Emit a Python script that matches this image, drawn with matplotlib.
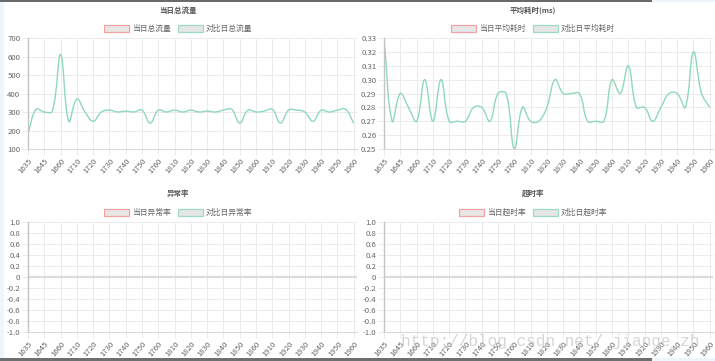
import numpy as np
import matplotlib
matplotlib.use("Agg")
import matplotlib.pyplot as plt
from matplotlib.path import Path
from matplotlib.patches import PathPatch, Patch, Rectangle

plt.rcParams['font.family'] = ['Noto Sans CJK SC', 'DejaVu Sans']

# ---------------- data ----------------
time_labels = ['1635', '1645', '1660', '1710', '1720', '1730', '1740', '1750', '1760',
               '1810', '1820', '1830', '1840', '1850', '1860', '1910', '1920', '1930',
               '1940', '1950', '1960']

compare_total_flow = [185, 315, 300, 305, 610, 250, 370, 300, 250, 300, 310, 300, 305, 300,
                      310, 240, 310, 300, 310, 300, 310, 300, 305, 300, 310, 315, 240, 310,
                      300, 305, 315, 240, 310, 310, 300, 250, 310, 300, 310, 315, 240]

compare_avg_time = [0.33, 0.27, 0.29, 0.28, 0.27, 0.30, 0.27, 0.30, 0.27, 0.27, 0.27, 0.28,
                    0.28, 0.27, 0.29, 0.29, 0.25, 0.28, 0.27, 0.27, 0.28, 0.30, 0.29, 0.29,
                    0.29, 0.27, 0.27, 0.27, 0.30, 0.29, 0.31, 0.28, 0.28, 0.27, 0.28, 0.29,
                    0.29, 0.28, 0.32, 0.29, 0.28]

panel_titles = ['当日总流量', '平均耗时(ms)', '异常率', '超时率']
legend_labels = [('当日总流量', '对比日总流量'),
                 ('当日平均耗时', '对比日平均耗时'),
                 ('当日异常率', '对比日异常率'),
                 ('当日超时率', '对比日超时率')]

flow_ticks = [100, 200, 300, 400, 500, 600, 700]
time_ticks = [0.25, 0.26, 0.27, 0.28, 0.29, 0.30, 0.31, 0.32, 0.33]
rate_ticks = [-1.0, -0.8, -0.6, -0.4, -0.2, 0, 0.2, 0.4, 0.6, 0.8, 1.0]
rate_tick_labels = ['-1.0', '-0.8', '-0.6', '-0.4', '-0.2', '0', '0.2', '0.4', '0.6', '0.8', '1.0']

# ---------------- styling ----------------
W, H = 715, 361
LINE_C = '#8fd9b9'
RED_C = '#f3a3a3'
GREEN_C = '#9edbc1'
GRID_C = '#ebebeb'
TXT_C = '#666666'
FS = 5.6

fig = plt.figure(figsize=(W / 100, H / 100), dpi=100)
fig.patch.set_facecolor('white')


def fx(px):
    return px / W


def fy(py):
    return 1 - py / H


def make_axes(left, top, bottom, width=329):
    return fig.add_axes([fx(left), fy(bottom), width / W, (bottom - top) / H])


def spline(ax, xs, ys, tension=0.4):
    pts = ax.transData.transform(np.column_stack([xs, ys]))
    n = len(pts)
    cp_prev = np.zeros_like(pts)
    cp_next = np.zeros_like(pts)
    for i in range(n):
        cur = pts[i]
        prv = pts[i - 1] if i > 0 else cur
        nxt = pts[i + 1] if i < n - 1 else cur
        d01 = np.hypot(*(cur - prv))
        d12 = np.hypot(*(nxt - cur))
        tot = d01 + d12
        s01 = d01 / tot if tot else 0
        s12 = d12 / tot if tot else 0
        cp_prev[i] = cur - tension * s01 * (nxt - prv)
        cp_next[i] = cur + tension * s12 * (nxt - prv)
    verts = [pts[0]]
    codes = [Path.MOVETO]
    for i in range(n - 1):
        verts += [cp_next[i], cp_prev[i + 1], pts[i + 1]]
        codes += [Path.CURVE4] * 3
    verts = ax.transData.inverted().transform(np.array(verts))
    patch = PathPatch(Path(verts, codes), facecolor='none', edgecolor=LINE_C, lw=1.0,
                      transform=ax.transData, clip_on=True)
    ax.add_patch(patch)


def style_axes(ax, yticks, ylabels, ylim):
    n = len(time_labels)
    ax.set_xlim(0, (n - 1) + 0.2)
    ax.set_ylim(*ylim)
    ax.set_xticks(range(n))
    ax.set_xticklabels(time_labels, rotation=50, ha='right', rotation_mode='anchor',
                       fontsize=FS, color=TXT_C)
    ax.set_yticks(yticks)
    ax.set_yticklabels(ylabels, fontsize=FS, color=TXT_C)
    ax.grid(True, color=GRID_C, lw=0.7)
    ax.set_axisbelow(True)
    ax.tick_params(axis='both', length=4, width=0.7, color=GRID_C, pad=1.5)
    for s in ('top', 'right'):
        ax.spines[s].set_visible(False)
    ax.spines['left'].set_color('#c4c4c4')
    ax.spines['left'].set_linewidth(1.0)
    ax.spines['bottom'].set_color('#dadada')
    ax.spines['bottom'].set_linewidth(0.8)
    ax.set_facecolor('white')


def header(cx, title_y, legend_y, title, labels):
    fig.text(fx(cx), fy(title_y), title, ha='center', va='center', fontsize=5.4,
             color='#555555', fontweight='bold')
    handles = [Patch(facecolor='#e6e6e6', edgecolor=RED_C, lw=0.9),
               Patch(facecolor='#e6e6e6', edgecolor=GREEN_C, lw=0.9)]
    fig.legend(handles, labels, loc='center', bbox_to_anchor=(fx(cx), fy(legend_y)),
               ncol=2, frameon=False, fontsize=FS, labelcolor=TXT_C,
               handlelength=3.2, handleheight=1.0, handletextpad=0.4, columnspacing=0.9,
               borderpad=0)


x_data = np.arange(len(compare_total_flow)) / 2.0

# top-left
ax1 = make_axes(28, 38, 149)
style_axes(ax1, flow_ticks, [str(v) for v in flow_ticks], (100, 700))
spline(ax1, x_data, compare_total_flow)
header(178, 10, 29, panel_titles[0], legend_labels[0])

# top-right
ax2 = make_axes(384, 38, 149)
style_axes(ax2, time_ticks, ['%.2f' % v for v in time_ticks], (0.25, 0.33))
spline(ax2, x_data, compare_avg_time)
header(533, 10, 29, panel_titles[1], legend_labels[1])

# bottom-left
ax3 = make_axes(28, 222, 332)
style_axes(ax3, rate_ticks, rate_tick_labels, (-1.0, 1.0))
ax3.axhline(0, color='#dcdcdc', lw=1.6, zorder=1)
header(178, 193, 213, panel_titles[2], legend_labels[2])

# bottom-right
ax4 = make_axes(384, 222, 332)
style_axes(ax4, rate_ticks, rate_tick_labels, (-1.0, 1.0))
ax4.axhline(0, color='#dcdcdc', lw=1.6, zorder=1)
header(533, 193, 213, panel_titles[3], legend_labels[3])

# watermark
fig.text(fx(401), fy(346), 'http://blog.csdn.net/ jiange_zh', fontsize=11.6,
         family='Liberation Mono', color='#c8c8c8', alpha=0.75, ha='left', va='baseline')

# screenshot frame artefacts
fig.patches.append(Rectangle((0, fy(361)), fx(4), 1, transform=fig.transFigure,
                             facecolor='#eef5fb', edgecolor='none', zorder=10))
fig.patches.append(Rectangle((0, fy(1.5)), fx(652), 1.5 / H, transform=fig.transFigure,
                             facecolor='#6a6a6a', edgecolor='none', zorder=11))
fig.patches.append(Rectangle((fx(652), fy(1.5)), 1 - fx(652), 1.5 / H, transform=fig.transFigure,
                             facecolor='#eef5fb', edgecolor='none', zorder=11))
fig.patches.append(Rectangle((0, 0), fx(652), 3 / H, transform=fig.transFigure,
                             facecolor='#6f6f6f', edgecolor='none', zorder=11))
fig.patches.append(Rectangle((fx(652), 0), 1 - fx(652), 3 / H, transform=fig.transFigure,
                             facecolor='#eef5fb', edgecolor='none', zorder=11))

fig.savefig('out.png', dpi=100)
